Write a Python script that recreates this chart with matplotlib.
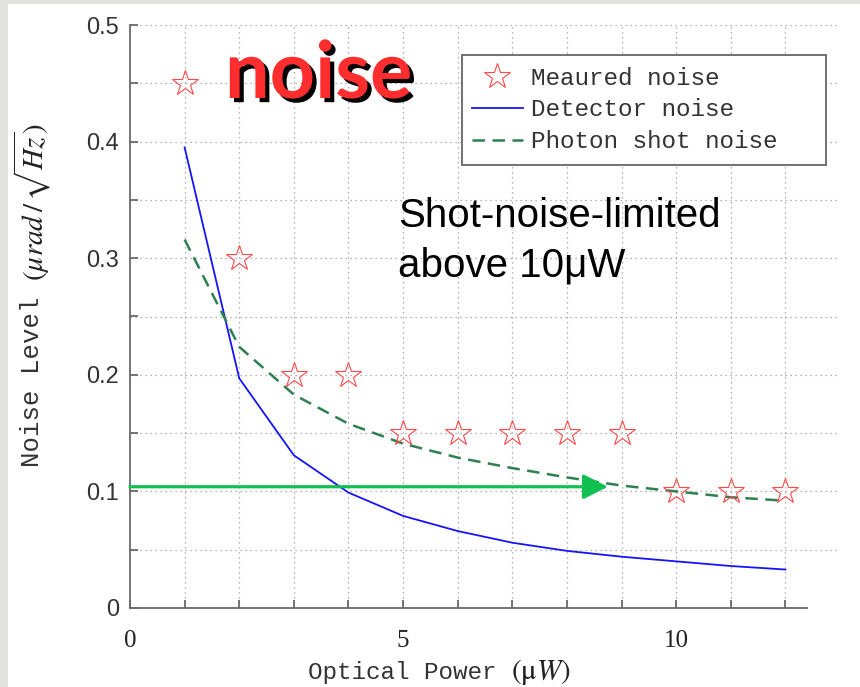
import matplotlib.pyplot as plt
import matplotlib.patheffects as pe
from matplotlib.patches import Rectangle
from matplotlib.ticker import MultipleLocator, FixedLocator

plt.rcParams['mathtext.fontset'] = 'stix'

# 数据
power = [1, 2, 3, 4, 5, 6, 7, 8, 9, 10, 11, 12]
measured = [0.45, 0.30, 0.20, 0.20, 0.15, 0.15, 0.15, 0.15, 0.15, 0.10, 0.10, 0.10]
detector = [0.395, 0.197, 0.131, 0.099, 0.079, 0.066, 0.056, 0.049, 0.044, 0.040, 0.036, 0.033]
shot = [0.316, 0.224, 0.183, 0.158, 0.141, 0.129, 0.120, 0.112, 0.105, 0.100, 0.095, 0.092]
xtick_vals = [0, 5, 10]
ytick_vals = [0, 0.1, 0.2, 0.3, 0.4, 0.5]
ytick_labels = ['0', '0.1', '0.2', '0.3', '0.4', '0.5']
arrow_level = 0.104
arrow_end = 8.75

W, H = 860, 687
fig = plt.figure(figsize=(W / 100, H / 100), dpi=100, facecolor='#e2e2de')
fig.patches.append(Rectangle((8 / W, 0), 1, 1 - 4 / H, transform=fig.transFigure,
                             facecolor='white', edgecolor='none', zorder=-10))

ax = fig.add_axes([130 / W, 1 - 608 / H, 710 / W, 583 / H])
ax.set_facecolor('none')
ax.set_xlim(0, 13)
ax.set_ylim(0, 0.5)

# 网格
for x in power:
    ax.axvline(x, color='#9a9a9a', lw=0.9, ls=(0, (1, 3)), zorder=0)
for k in range(1, 11):
    ax.axhline(k * 0.05, color='#9a9a9a', lw=0.9, ls=(0, (1, 3)), zorder=0)

# 曲线
ax.plot(power, detector, color='#1414ff', lw=1.3, label='Detector noise', zorder=3)
ax.plot(power, shot, color='#2e8050', lw=1.8, ls=(0, (5, 3)), label='Photon shot noise', zorder=3)
ax.plot(power, measured, ls='none', marker='*', ms=19, mfc='none', mec='#ff4a4a',
        mew=0.8, label='Meaured noise', zorder=4)

# 箭头
ax.annotate('', xy=(arrow_end, arrow_level), xytext=(0, arrow_level),
            arrowprops=dict(arrowstyle='-|>,head_length=0.75,head_width=0.38',
                            mutation_scale=20, color='#12c052', lw=2.3,
                            shrinkA=0, shrinkB=0), zorder=5)

# 坐标轴
for s in ['top', 'right']:
    ax.spines[s].set_visible(False)
for s in ['left', 'bottom']:
    ax.spines[s].set_color('#6a6a6a')
    ax.spines[s].set_linewidth(1.3)
ax.spines['bottom'].set_bounds(0, 12.4)
ax.spines['left'].set_bounds(0, 0.5)

ax.xaxis.set_major_locator(FixedLocator(xtick_vals))
ax.xaxis.set_minor_locator(FixedLocator(power))
ax.set_xticklabels([str(v) for v in xtick_vals], fontfamily='Liberation Serif', fontsize=18,
                   color='#222222')
ax.yaxis.set_major_locator(FixedLocator(ytick_vals))
ax.yaxis.set_minor_locator(MultipleLocator(0.05))
ax.set_yticklabels(ytick_labels, fontfamily='Liberation Sans', fontsize=17, color='#333333')
ax.tick_params(axis='both', which='both', direction='in', color='#6a6a6a', width=1.3)
ax.tick_params(axis='x', which='both', length=6, pad=16)
ax.tick_params(axis='y', which='both', length=6, pad=8)

# 轴标题 (文字与公式分开, 公式字号更大)
fig.text(308 / W, 1 - 679 / H, 'Optical Power', fontfamily='Liberation Mono', fontsize=17.5,
         color='#333333', va='baseline', ha='left')
fig.text(511 / W, 1 - 679 / H, r'$(\mathrm{\mu}W)$', fontsize=21,
         color='#222222', va='baseline', ha='left')
fig.text(32 / W, 1 - 382 / H, 'Noise Level', fontfamily='Liberation Mono', fontsize=18.5,
         color='#333333', va='center', ha='center', rotation=90)
fig.text(32 / W, 1 - 202 / H, r'$(\mu rad\,/\,\sqrt{Hz})$', fontsize=21,
         color='#222222', va='center', ha='center', rotation=90)

# 图例
h, l = ax.get_legend_handles_labels()
order = [2, 0, 1]
leg = fig.legend([h[i] for i in order], [l[i] for i in order], loc='upper left',
                 bbox_to_anchor=(462 / W, 1 - 57 / H), prop={'family': 'Liberation Mono', 'size': 17.5},
                 frameon=False, numpoints=1, handlelength=2.1,
                 handletextpad=0.35, borderpad=0.4, labelspacing=0.36, borderaxespad=0)
for t in leg.get_texts():
    t.set_color('#333333')
fig.patches.append(Rectangle((462 / W, 1 - 165 / H), 364 / W, 110 / H, transform=fig.transFigure,
                             facecolor='white', edgecolor='#666666', lw=1.3, zorder=4))

# 注释文字
fig.text(225 / W, 1 - 98 / H, 'noise', fontfamily='Lato', fontweight='bold', fontsize=57,
         color='#ff2d2d', va='baseline', ha='left',
         path_effects=[pe.withSimplePatchShadow(offset=(3, -3), shadow_rgbFace='black', alpha=1)])
fig.text(398 / W, 1 - 227 / H, 'Shot-noise-limited', fontfamily='Liberation Sans', fontsize=29,
         color='black', va='baseline', ha='left')
fig.text(398 / W, 1 - 277 / H, 'above 10μW', fontfamily='Liberation Sans', fontsize=29,
         color='black', va='baseline', ha='left')

fig.savefig('out.png', dpi=100, facecolor=fig.get_facecolor())
